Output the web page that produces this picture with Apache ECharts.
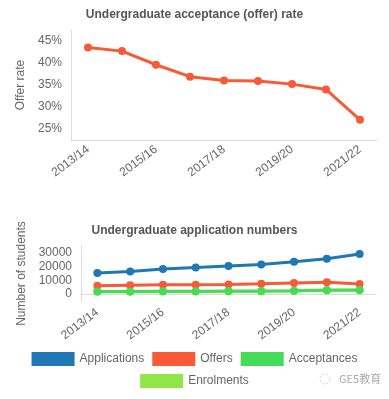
<!DOCTYPE html>
<html>
<head>
<meta charset="utf-8">
<script src="https://cdn.jsdelivr.net/npm/echarts@6/dist/echarts.min.js"></script>
<style>html,body{margin:0;padding:0;background:#fff}#c{width:389px;height:399px}</style>
</head>
<body>
<div id="c"></div>
<script>
const years = ['2013/14','2014/15','2015/16','2016/17','2017/18','2018/19','2019/20','2020/21','2021/22'];
const offerRate = [43.5, 42.7, 39.6, 36.9, 36.0, 35.9, 35.2, 34.0, 27.1];
const applications = [15300, 16400, 18200, 19300, 20400, 21500, 23600, 25800, 29200];
const offers = [6100, 6500, 6800, 6800, 7000, 7500, 8100, 8600, 7400];
const acceptances = [2000, 2000, 2100, 2100, 2200, 2200, 2400, 3000, 3000];
const enrolments = [1800, 1800, 1900, 1900, 2000, 2000, 2200, 2700, 2800];
const rateTicks = [25, 30, 35, 40, 45];
const numTicks = [0, 10000, 20000, 30000];
const rateTitle = 'Undergraduate acceptance (offer) rate';
const numTitle = 'Undergraduate application numbers';

const C = {blue:'#1f77b4', red:'#f85a38', green:'#45dc5a', lime:'#8fe646'};
const tickIdx = [0,2,4,5,6,8];
const axisCol = '#dcdcdc';
const txt = '#666';
const FF = 'Liberation Sans';

function xAxis(gi, margin){
  return {
    type:'category', gridIndex:gi, data:years, boundaryGap:true,
    axisLine:{lineStyle:{color:axisCol}},
    axisTick:{length:5, lineStyle:{color:axisCol}, interval:(i)=>tickIdx.includes(i)},
    axisLabel:{interval:1, rotate:37, color:txt, fontSize:12, fontFamily:FF, margin:margin}
  };
}
function line(name, data, color, xi, yi, z){
  return {
    name, type:'line', data, xAxisIndex:xi, yAxisIndex:yi, z:z||2,
    symbol:'circle', symbolSize:8, showSymbol:true,
    lineStyle:{width:3, color}, itemStyle:{color},
    emphasis:{disabled:true}, animation:false
  };
}
const chart = echarts.init(document.getElementById('c'), null, {renderer:'canvas'});
chart.setOption({
  animation:false,
  title:[
    {text:rateTitle, left:'center', top:4, textStyle:{fontSize:12, fontWeight:'bold', color:'#555', fontFamily:FF}},
    {text:numTitle, left:'center', top:220, textStyle:{fontSize:12, fontWeight:'bold', color:'#555', fontFamily:FF}}
  ],
  grid:[
    {left:71, right:12, top:30, height:110},
    {left:81, right:13, top:246, height:55}
  ],
  xAxis:[xAxis(0, 8), xAxis(1, 10)],
  yAxis:[
    {type:'value', gridIndex:0, min:22.5, max:47.5, interval:2.5,
     name:'Offer rate', nameLocation:'middle', nameGap:42, nameTextStyle:{color:txt, fontSize:12, fontFamily:FF},
     axisLine:{show:true, lineStyle:{color:axisCol}}, axisTick:{show:false}, splitLine:{show:false},
     axisLabel:{color:txt, fontSize:12, fontFamily:FF, margin:9,
       formatter:(v)=>rateTicks.includes(Math.round(v*100)/100)?(v+'%'):''}},
    {type:'value', gridIndex:1, min:-5000, max:35000, interval:5000,
     name:'Number of students', nameLocation:'middle', nameGap:52, nameTextStyle:{color:txt, fontSize:12, fontFamily:FF},
     axisLine:{show:true, lineStyle:{color:axisCol}}, axisTick:{show:false}, splitLine:{show:false},
     axisLabel:{color:txt, fontSize:12, fontFamily:FF, margin:9,
       formatter:(v)=>numTicks.includes(Math.round(v))?String(Math.round(v)):''}}
  ],
  legend:[
    {data:['Applications','Offers','Acceptances'], top:347, left:'center', icon:'rect', itemWidth:43, itemHeight:14, itemGap:8,
     textStyle:{color:txt, fontSize:12, fontFamily:FF}, selectedMode:false},
    {data:['Enrolments'], top:369, left:'center', icon:'rect', itemWidth:43, itemHeight:14,
     textStyle:{color:txt, fontSize:12, fontFamily:FF}, selectedMode:false}
  ],
  graphic:[
    {type:'text', left:339, top:373, style:{text:'GE5教育', fill:'#aaa', font:'11px "Noto Sans CJK SC"'}},
    {type:'circle', shape:{cx:325, cy:379, r:5}, style:{fill:'none', stroke:'#ccc', lineWidth:1, lineDash:[2,2]}}
  ],
  series:[
    line('Offer rate', offerRate, C.red, 0, 0),
    line('Applications', applications, C.blue, 1, 1, 3),
    line('Offers', offers, C.red, 1, 1, 3),
    line('Enrolments', enrolments, C.lime, 1, 1, 2),
    line('Acceptances', acceptances, C.green, 1, 1, 4)
  ]
});
</script>
</body>
</html>
